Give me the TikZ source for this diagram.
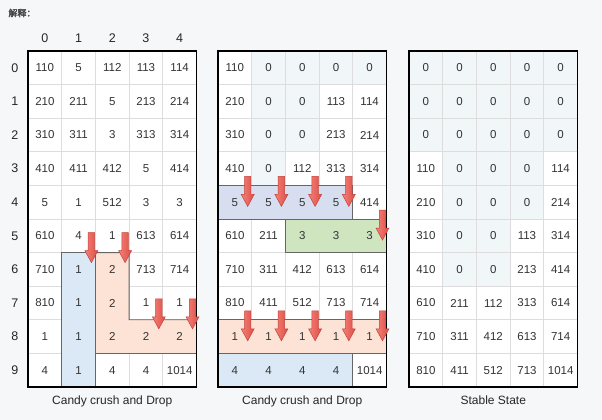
\documentclass[tikz,border=0pt]{standalone}
\usepackage{fontspec}
\setmainfont{Liberation Sans}
\newfontfamily\cjk[AutoFakeBold=2.5]{Noto Sans CJK SC}
\usetikzlibrary{positioning}

\definecolor{bgcol}{RGB}{246,247,249}
\definecolor{gridcol}{RGB}{221,221,221}
\definecolor{zerocol}{RGB}{241,247,248}
\definecolor{numcol}{RGB}{51,51,51}
\definecolor{bluecol}{RGB}{219,233,246}
\definecolor{lavcol}{RGB}{214,222,240}
\definecolor{greencol}{RGB}{206,229,192}
\definecolor{salmoncol}{RGB}{252,227,214}
\definecolor{arrowlt}{RGB}{244,128,118}
\definecolor{arrowdk}{RGB}{222,78,70}
\definecolor{arrowedge}{RGB}{196,64,58}

\tikzset{
  cell/.style={rectangle, draw=gridcol, fill=white, line width=0.8pt,
    minimum width=33.7pt, minimum height=33.6pt, inner sep=0pt, outer sep=0pt},
  zerocell/.style={cell, fill=zerocol},
  num/.style={font=\fontsize{11.5}{12}\selectfont, text=numcol, inner sep=0pt},
  idx/.style={font=\fontsize{12.5}{13}\selectfont, text=black!85, inner sep=0pt},
  caption/.style={font=\fontsize{12}{13}\selectfont, text=black!85},
  region/.style={draw=black!60, line width=0.8pt},
  frame/.style={draw=black, line width=1.3pt},
  drop/.pic={\path[draw=arrowedge, line width=0.5pt, left color=arrowlt, right color=arrowdk]
    (-3.2,0) -- (3.2,0) -- (3.2,18) -- (6.5,18) -- (0,30) -- (-6.5,18) -- (-3.2,18) -- cycle;}
}

% 网格：#1 名字, #2 左边 x, #3 数据
\newcommand{\cellgrid}[3]{%
  \foreach \row [count=\r from 0] in #3 {
    \foreach \v [count=\c from 0] in \row {
      \ifnum\v=0 \def\cellstyle{zerocell}\else\def\cellstyle{cell}\fi
      \node[\cellstyle] (#1-\r-\c) at ({#2+(\c+0.5)*33.7}, {51+(\r+0.5)*33.6}) {};
    }
  }
}
\newcommand{\cellnums}[2]{%
  \foreach \row [count=\r from 0] in #2 {
    \foreach \v [count=\c from 0] in \row {
      \node[num] at (#1-\r-\c) {\v};
    }
  }
}

\def\boardA{{110,5,112,113,114},{210,211,5,213,214},{310,311,3,313,314},
  {410,411,412,5,414},{5,1,512,3,3},{610,4,1,613,614},{710,1,2,713,714},
  {810,1,2,1,1},{1,1,2,2,2},{4,1,4,4,1014}}
\def\boardB{{110,0,0,0,0},{210,0,0,113,114},{310,0,0,213,214},
  {410,0,112,313,314},{5,5,5,5,414},{610,211,3,3,3},{710,311,412,613,614},
  {810,411,512,713,714},{1,1,1,1,1},{4,4,4,4,1014}}
\def\boardC{{0,0,0,0,0},{0,0,0,0,0},{0,0,0,0,0},
  {110,0,0,0,114},{210,0,0,0,214},{310,0,0,113,314},{410,0,0,213,414},
  {610,211,112,313,614},{710,311,412,613,714},{810,411,512,713,1014}}

\begin{document}
\begin{tikzpicture}[x=1pt, y=-1pt]
   \fill[bgcol] (0,0) rectangle (602,420);
   \useasboundingbox (0,0) rectangle (602,420);

   \node[anchor=west, font=\cjk\bfseries\fontsize{9}{10}\selectfont, text=black!72] (title) at (5,13) {解释：};

   % 三个网格
   \cellgrid{a}{28}{\boardA}
   \cellgrid{b}{218}{\boardB}
   \cellgrid{c}{409}{\boardC}

   % 第一步：消除的块
   \path[region, fill=bluecol] (a-6-1.north west) rectangle (a-9-1.south east);
   \path[region, fill=salmoncol] (a-6-2.north west) -- (a-6-2.north east) -- (a-8-3.north west)
     -- (a-8-4.north east) -- (a-8-4.south east) -- (a-8-2.south west) -- cycle;

   % 第二步：消除的块
   \path[region, fill=lavcol] (b-4-0.north west) rectangle (b-4-3.south east);
   \path[region, fill=greencol] (b-5-2.north west) rectangle (b-5-4.south east);
   \path[region, fill=salmoncol] (b-8-0.north west) rectangle (b-8-4.south east);
   \path[region, fill=bluecol] (b-9-0.north west) rectangle (b-9-3.south east);

   \cellnums{a}{\boardA}
   \cellnums{b}{\boardB}
   \cellnums{c}{\boardC}

   \draw[frame] (a-0-0.north west) rectangle (a-9-4.south east);
   \draw[frame] (b-0-0.north west) rectangle (b-9-4.south east);
   \draw[frame] (c-0-0.north west) rectangle (c-9-4.south east);

   % 下落的箭头
   \pic at ([shift={(-4,-20)}]a-6-1.north east) {drop};
   \pic at ([shift={(-4,-20)}]a-6-2.north east) {drop};
   \pic at ([shift={(-4,-21)}]a-8-3.north east) {drop};
   \pic at ([shift={(-4,-21)}]a-8-4.north east) {drop};
   \foreach \c in {0,...,3}
     \pic at ([shift={(-4,-9)}]b-4-\c.north east) {drop};
   \pic at ([shift={(-4,-9)}]b-5-4.north east) {drop};
   \foreach \c in {0,...,4}
     \pic at ([shift={(-4,-9)}]b-8-\c.north east) {drop};

   % 行号和列号
   \foreach \c in {0,...,4}
     \node[idx, above=8pt of a-0-\c] (col-\c) {\c};
   \foreach \r in {0,...,9}
     \node[idx, left=9.5pt of a-\r-0] (row-\r) {\r};

   \node[caption, below=5pt of a-9-2] (cap-a) {Candy crush and Drop};
   \node[caption, below=5pt of b-9-2] (cap-b) {Candy crush and Drop};
   \node[caption, below=5pt of c-9-2] (cap-c) {Stable State};
\end{tikzpicture}
\end{document}
